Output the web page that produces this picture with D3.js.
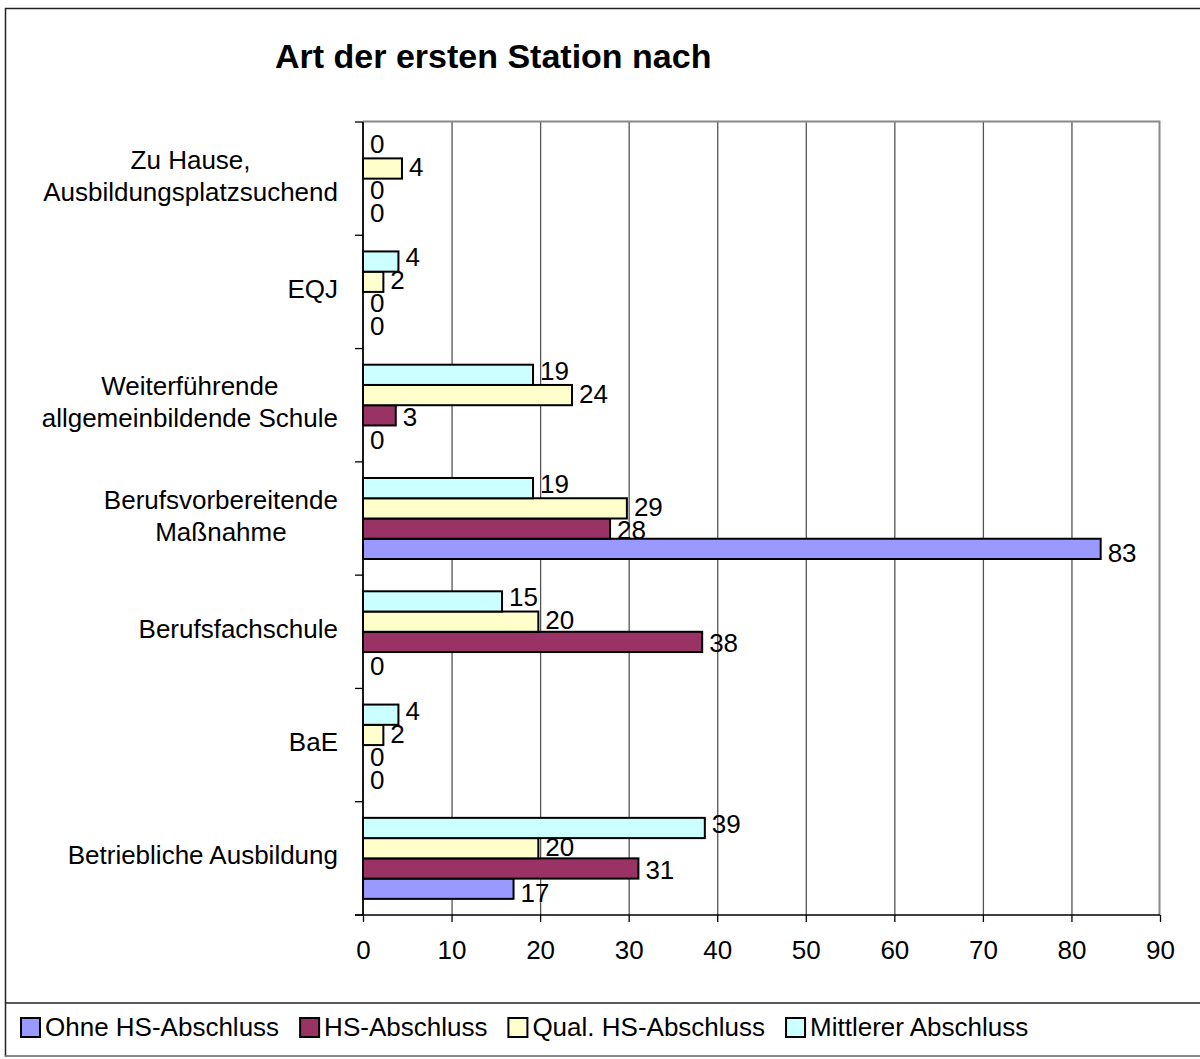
<!DOCTYPE html>
<html><head><meta charset="utf-8">
<script src="https://cdn.jsdelivr.net/npm/d3@7"></script>
<style>
html,body{margin:0;padding:0;background:#fff;}
svg{display:block;font-family:"Liberation Sans",Arial,sans-serif;}
</style></head>
<body><svg id="c" width="1200" height="1059"></svg>
<script>
// Categories, top to bottom
const categories = ["Zu Hause, Ausbildungsplatzsuchend","EQJ","Weiterführende allgemeinbildende Schule","Berufsvorbereitende Maßnahme","Berufsfachschule","BaE","Betriebliche Ausbildung"];
// Series (legend order)
const seriesNames = ["Ohne HS-Abschluss","HS-Abschluss","Qual. HS-Abschluss","Mittlerer Abschluss"];
const seriesColors = ["#9999FF","#993366","#FFFFCC","#CCFFFF"];
// Bar lengths (per category, top to bottom)
const ohneValues   = [0, 0, 0, 83.3, 0, 0, 17.0];
const hsValues     = [0, 0, 3.7, 27.9, 38.3, 0, 31.1];
const qualValues   = [4.4, 2.3, 23.6, 29.8, 19.8, 2.3, 19.8];
const mittlValues  = [0, 4.0, 19.2, 19.2, 15.7, 4.0, 38.6];
// Data labels as printed
const ohneLabels  = ["0","0","0","83","0","0","17"];
const hsLabels    = ["0","0","3","28","38","0","31"];
const qualLabels  = ["4","2","24","29","20","2","20"];
const mittlLabels = ["0","4","19","19","15","4","39"];
const xTicks = [0,10,20,30,40,50,60,70,80,90];
const chartTitle = "Art der ersten Station nach";

(function(){
const seriesValues = [ohneValues, hsValues, qualValues, mittlValues];
const seriesLabels = [ohneLabels, hsLabels, qualLabels, mittlLabels];

const svg = d3.select("#c");
const FS = 26;

// outer frame
svg.append("rect").attr("x",5.5).attr("y",8.5).attr("width",1210).attr("height",1047.5)
  .attr("fill","#fff").attr("stroke","#222").attr("stroke-width",1.5);
svg.append("line").attr("x1",5.5).attr("x2",1210).attr("y1",1003).attr("y2",1003).attr("stroke","#222").attr("stroke-width",1.5);
svg.append("line").attr("x1",5.5).attr("x2",1210).attr("y1",1056).attr("y2",1056).attr("stroke","#888").attr("stroke-width",2);

// title
svg.append("text").attr("x",275).attr("y",68).attr("font-size",34).attr("font-weight","bold").attr("fill","#000").text(chartTitle);

const pL = 363, pR = 1160, pT = 122, pB = 915;
const x = d3.scaleLinear().domain([0,90]).range([pL,pR]);
const y = d3.scaleBand().domain(categories).range([pT,pB]).paddingInner(0.285).paddingOuter(0.1425);
const stackOrder = [3,2,1,0]; // top to bottom within group: Mittlerer, Qual, HS, Ohne
const yInner = d3.scaleBand().domain(stackOrder).range([0,y.bandwidth()]);
const step = (pB-pT)/categories.length;

// gridlines
svg.append("g").selectAll("line").data(xTicks.filter(t=>t>0 && t<90)).join("line")
  .attr("x1",d=>x(d)+0.5).attr("x2",d=>x(d)+0.5).attr("y1",pT).attr("y2",pB)
  .attr("stroke","#555").attr("stroke-width",1.3);
// plot border top/right
svg.append("path").attr("d",`M${pL},${pT-0.5}H${pR-0.5}V${pB}`).attr("fill","none").attr("stroke","#888").attr("stroke-width",2);

// x axis
const xAxis = d3.axisBottom(x).tickValues(xTicks).tickSize(7).tickPadding(0).tickFormat(d3.format("d"));
const gx = svg.append("g").attr("transform",`translate(0,${pB})`).call(xAxis);
gx.select(".domain").remove();
gx.selectAll(".tick line").attr("stroke","#000").attr("stroke-width",1.3);
gx.selectAll(".tick text").attr("font-size",FS).attr("font-family","Liberation Sans, Arial, sans-serif")
  .attr("fill","#000").attr("y",44).attr("dy",null);
svg.append("line").attr("x1",pL-8).attr("x2",pR).attr("y1",pB).attr("y2",pB).attr("stroke","#000").attr("stroke-width",1.5);

// y axis ticks at category boundaries
const bounds = d3.range(categories.length+1).map(i=>pT+i*step);
svg.append("g").selectAll("line").data(bounds).join("line")
  .attr("x1",pL-8).attr("x2",pL).attr("y1",d=>d).attr("y2",d=>d).attr("stroke","#000").attr("stroke-width",1.3);

// bars
const rows = [];
categories.forEach((c,ci)=>{
  seriesValues.forEach((vals,si)=>{
    rows.push({c, si, v: vals[ci], lab: seriesLabels[si][ci]});
  });
});
svg.append("g").selectAll("rect").data(rows.filter(r=>r.v>0)).join("rect")
  .attr("x",pL).attr("y",r=>y(r.c)+yInner(r.si))
  .attr("width",r=>x(r.v)-pL).attr("height",yInner.bandwidth())
  .attr("fill",r=>seriesColors[r.si]).attr("stroke","#000").attr("stroke-width",2);

// y axis line
svg.append("line").attr("x1",pL).attr("x2",pL).attr("y1",pT).attr("y2",pB+1).attr("stroke","#000").attr("stroke-width",1.8);

// data labels (spread slightly wider than the bars, as in the original)
const labelGap = 23;
svg.append("g").selectAll("text").data(rows).join("text")
  .attr("x",r=>x(r.v)+7)
  .attr("y",r=>{
    const rank = stackOrder.indexOf(r.si);
    return y(r.c) + y.bandwidth()/2 + (rank-1.5)*labelGap + 9;
  })
  .attr("font-size",FS).attr("fill","#000").text(r=>r.lab);

// category labels (wrapped, right-aligned block, centered lines)
const maxW = 320, lineH = 32, rightEdge = 338;
const measure = svg.append("text").attr("font-size",FS).attr("visibility","hidden");
function tw(s){ measure.text(s); return measure.node().getComputedTextLength(); }
categories.forEach(c=>{
  const words = c.split(" ");
  const lines = [];
  let cur = "";
  words.forEach(w=>{
    const t = cur ? cur+" "+w : w;
    if (cur && tw(t) > maxW) { lines.push(cur); cur = w; } else cur = t;
  });
  lines.push(cur);
  const bw = d3.max(lines, tw);
  const cx = rightEdge - bw/2;
  const cy = y(c) + y.bandwidth()/2 - 3;
  const t = svg.append("text").attr("font-size",FS).attr("text-anchor","middle").attr("fill","#000");
  lines.forEach((l,i)=>{
    t.append("tspan").attr("x",cx).attr("y",cy + (i-(lines.length-1)/2)*lineH + 9).text(l);
  });
});
measure.remove();

// legend
let lx = 21;
const ly = 1018;
seriesNames.forEach((n,i)=>{
  svg.append("rect").attr("x",lx).attr("y",ly).attr("width",19).attr("height",19)
    .attr("fill",seriesColors[i]).attr("stroke","#000").attr("stroke-width",2);
  const t = svg.append("text").attr("x",lx+24).attr("y",ly+18).attr("font-size",FS).attr("fill","#000").text(n);
  lx = lx + 24 + t.node().getComputedTextLength() + 21;
});
})();
</script></body></html>
